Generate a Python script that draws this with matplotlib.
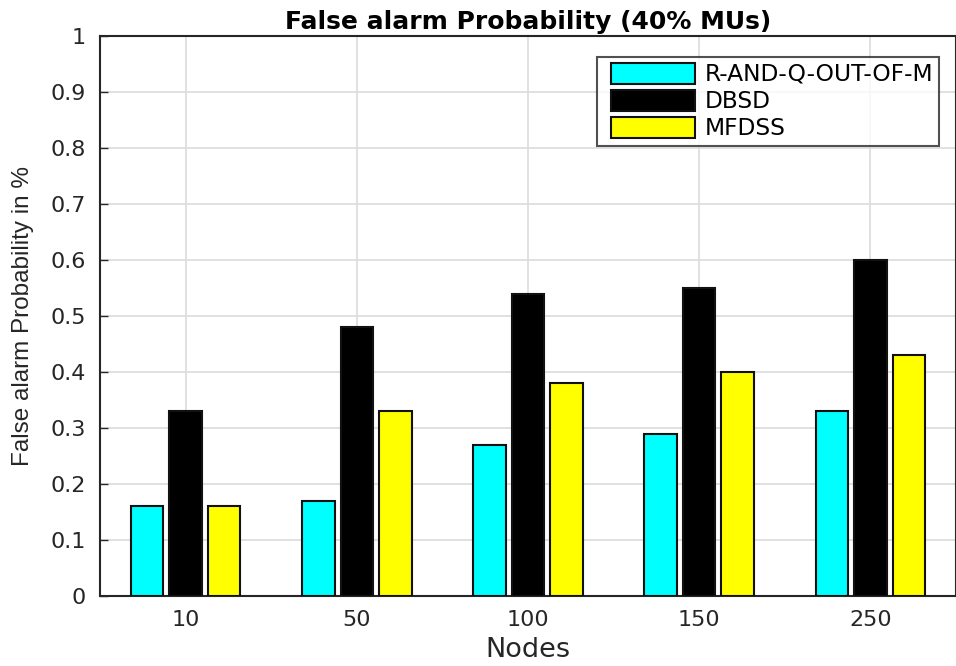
import matplotlib
matplotlib.use("Agg")
import matplotlib.pyplot as plt
from matplotlib.patches import Rectangle
from matplotlib.legend_handler import HandlerPatch
from matplotlib.container import BarContainer
import numpy as np

categories = ["10", "50", "100", "150", "250"]
series_names = ["R-AND-Q-OUT-OF-M", "DBSD", "MFDSS"]
r_and_q = [0.16, 0.17, 0.27, 0.29, 0.33]
dbsd = [0.33, 0.48, 0.54, 0.55, 0.60]
mfdss = [0.16, 0.33, 0.38, 0.40, 0.43]
colors = ["#00ffff", "#000000", "#ffff00"]
yticks = [0, 0.1, 0.2, 0.3, 0.4, 0.5, 0.6, 0.7, 0.8, 0.9, 1]

plt.rcParams['font.family'] = ['DejaVu Sans']

fig = plt.figure(figsize=(9.56, 6.66), dpi=100)
ax = fig.add_axes([100/956, 70/666, 856/956, 560/666])

x = np.arange(1, len(categories) + 1)
offs = [-0.225, 0.0, 0.225]
width = 0.19
for vals, off, c, name in zip([r_and_q, dbsd, mfdss], offs, colors, series_names):
    ax.bar(x + off, vals, width, color=c, edgecolor="#111111", linewidth=1.5,
           label=name, zorder=3)

ax.set_xlim(0.5, 5.5)
ax.set_ylim(0, 1)
ax.set_xticks(x)
ax.set_xticklabels(categories)
ax.set_yticks(yticks)
ax.set_yticklabels([("%g" % v) for v in yticks])
ax.tick_params(direction="in", length=6, width=1, labelsize=16, colors="#262626")
ax.tick_params(axis="x", pad=10)
ax.tick_params(axis="y", pad=10)
ax.grid(True, color="#dcdcdc", linewidth=1.2, zorder=0)
ax.set_axisbelow(True)
for s in ax.spines.values():
    s.set_color("#262626")
    s.set_linewidth(1.5)

ax.set_title("False alarm Probability (40% MUs)", fontsize=18, fontweight="bold",
             pad=5)
ax.set_xlabel("Nodes", fontsize=19.5, color="#262626", labelpad=5)
ax.set_ylabel("False alarm Probability in %", fontsize=17.5, color="#262626",
              family=["Liberation Sans", "DejaVu Sans"], labelpad=12)


def shifted_rect(legend, orig_handle, xdescent, ydescent, width, height, fontsize):
    shift = 6
    return Rectangle(xy=(-xdescent + shift, -ydescent - 1), width=width - shift,
                     height=height + 1)


def from_first_child(tgt, src):
    children = src.get_children()
    if children:
        tgt.update_from(children[0])


leg = ax.legend(loc="upper left", bbox_to_anchor=(497/856, (596-57)/560),
                fontsize=16.8, frameon=True, fancybox=False, edgecolor="#262626",
                handlelength=3.95, handleheight=0.87, handletextpad=0.4,
                labelspacing=0.17, borderpad=0.25, borderaxespad=0,
                handler_map={BarContainer: HandlerPatch(patch_func=shifted_rect,
                                                        update_func=from_first_child)})
leg.get_frame().set_linewidth(1.5)

fig.savefig("out.png", dpi=100)
